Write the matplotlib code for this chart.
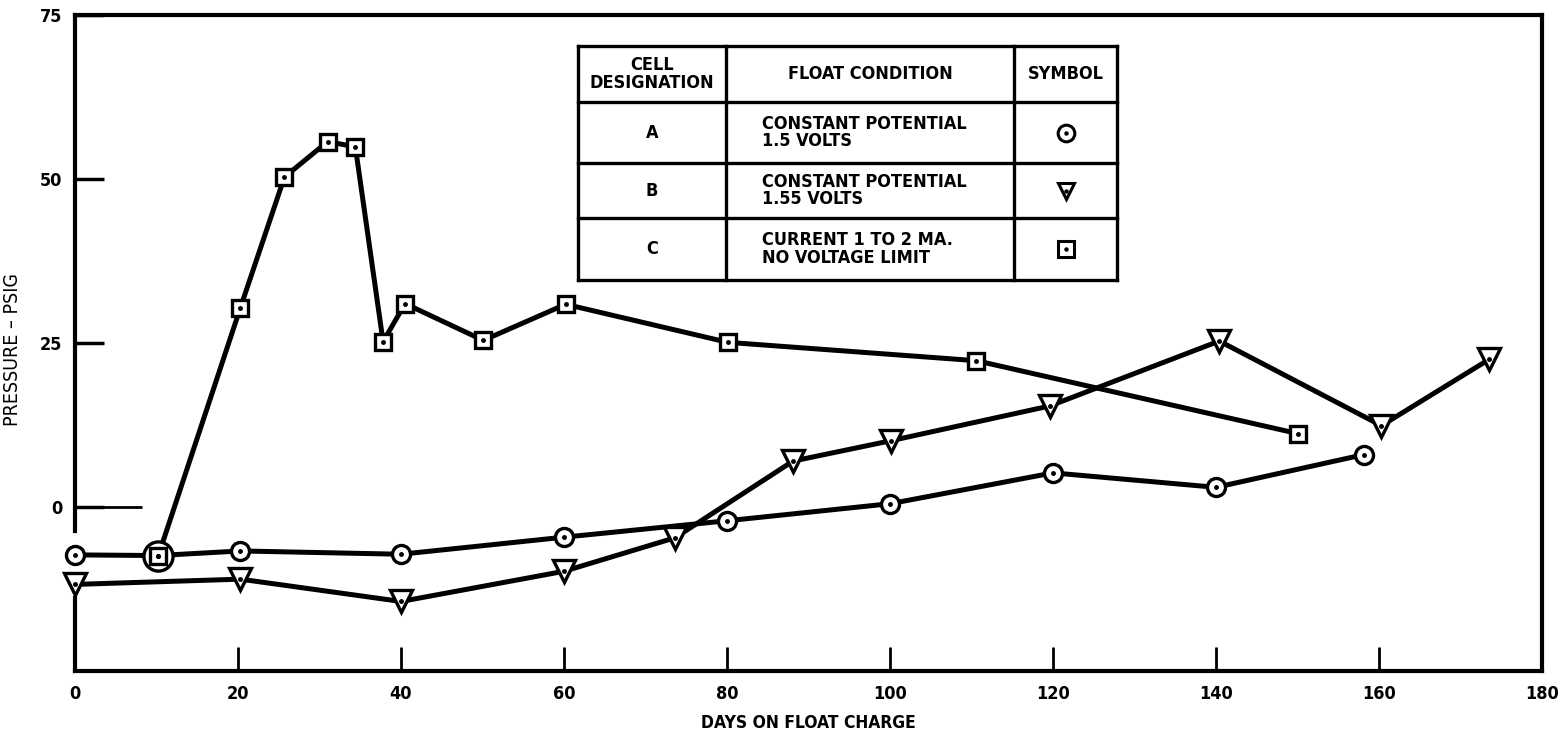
import numpy as np
import matplotlib
matplotlib.use('Agg')
import matplotlib.pyplot as plt

plt.rcParams['font.family'] = ['DejaVu Sans']
plt.rcParams['font.stretch'] = 'condensed'
plt.rcParams['font.weight'] = 'bold'

# Cell A - constant potential 1.5 V (circles)
a_days = [0, 10.2, 20.3, 40, 60, 80, 100, 120, 140, 158.2]
a_psig = [-7.3, -7.4, -6.7, -7.2, -4.6, -2.1, 0.5, 5.2, 3.0, 8.0]
# Cell B - constant potential 1.55 V (triangles)
b_days = [0, 20.3, 40, 60, 73.6, 88.1, 100.1, 119.6, 140.4, 160.3, 173.5]
b_psig = [-11.8, -11.0, -14.4, -9.8, -4.7, 7.0, 10.1, 15.4, 25.3, 12.4, 22.5]
# Cell C - current 1 to 2 mA (squares)
c_days = [10.2, 20.3, 25.7, 31, 34.4, 37.8, 40.5, 50.1, 60.2, 80.1, 110.6, 150]
c_psig = [-7.5, 30.4, 50.3, 55.7, 54.9, 25.2, 31.0, 25.4, 30.9, 25.1, 22.3, 11.2]

x_ticks = [0, 20, 40, 60, 80, 100, 120, 140, 160, 180]
y_ticks = [0, 25, 50, 75]

tbl_header = ['CELL\nDESIGNATION', 'FLOAT CONDITION', 'SYMBOL']
tbl_cells = ['A', 'B', 'C']
tbl_cond = ['CONSTANT POTENTIAL\n1.5 VOLTS', 'CONSTANT POTENTIAL\n1.55 VOLTS',
            'CURRENT 1 TO 2 MA.\nNO VOLTAGE LIMIT']
tbl_marks = ['o', 'v', 's']

W, H = 1560, 743
fig = plt.figure(figsize=(W / 100, H / 100), dpi=100)
ax = fig.add_axes([75 / W, 1 - 671 / H, (1542 - 75) / W, (671 - 15) / H])

lw = 3.6
mk = dict(markerfacecolor='white', markeredgecolor='black', markeredgewidth=2.4,
          clip_on=False)

ax.plot(a_days, a_psig, color='black', lw=lw, zorder=2)
ax.plot(b_days, b_psig, color='black', lw=lw, zorder=2)
ax.plot(c_days, c_psig, color='black', lw=lw, zorder=2)

ax.plot(a_days, a_psig, 'o', ms=13, zorder=3, **mk)
ax.plot(a_days[1], a_psig[1], 'o', ms=21, zorder=3, **mk)
ax.plot(b_days, b_psig, 'v', ms=16, zorder=3, **mk)
ax.plot(c_days, c_psig, 's', ms=12, zorder=4, **mk)
for xs, ys in [(a_days, a_psig), (b_days, b_psig), (c_days, c_psig)]:
    ax.plot(xs, ys, 'o', ms=2.5, color='black', zorder=5, clip_on=False)

ax.set_xlim(0, 180)
ax.set_ylim(-25, 75)
ax.set_xticks(x_ticks)
ax.set_xticklabels([str(v) for v in x_ticks], fontsize=13, fontweight='bold')
ax.set_yticks(y_ticks)
ax.set_yticklabels([str(v) for v in y_ticks], fontsize=13, fontweight='bold')
ax.tick_params(axis='x', direction='in', length=17, width=2, pad=10)
ax.tick_params(axis='y', direction='in', length=21, width=2.5, pad=9)
ax.yaxis.remove_overlapping_locs = False
ax.set_yticks([0], minor=True)
ax.tick_params(axis='y', which='minor', direction='in', length=48, width=2)

for s in ['top', 'right', 'bottom']:
    ax.spines[s].set_linewidth(3)
ax.spines['left'].set_visible(False)
ax.axvline(0, 0, 0.111, color='black', lw=3, clip_on=False)
ax.axvline(0, 0.213, 1, color='black', lw=3, clip_on=False)

ax.set_xlabel('DAYS ON FLOAT CHARGE', fontsize=12.5, fontweight='bold', labelpad=8)
ax.set_ylabel('PRESSURE – PSIG', fontsize=14, fontweight='normal')
ax.yaxis.set_label_coords(-0.036, 0.49)

# legend table drawn as an inset in pixel units
tx0, tx1, ty0, ty1 = 578, 1117, 46, 280
tab = fig.add_axes([tx0 / W, 1 - ty1 / H, (tx1 - tx0) / W, (ty1 - ty0) / H])
tab.set_xlim(tx0, tx1)
tab.set_ylim(ty1, ty0)
tab.axis('off')
cols = [578, 726, 1014, 1117]
rows = [46, 102, 163, 218, 280]
for c in cols:
    tab.plot([c, c], [rows[0], rows[-1]], color='black', lw=2.4,
             solid_capstyle='projecting', clip_on=False)
for r in rows:
    tab.plot([cols[0], cols[-1]], [r, r], color='black', lw=2.4,
             solid_capstyle='projecting', clip_on=False)

fs = 13
for i, h in enumerate(tbl_header):
    tab.text((cols[i] + cols[i + 1]) / 2, (rows[0] + rows[1]) / 2, h, ha='center',
             va='center', fontsize=fs, fontweight='bold', linespacing=0.95)
for j in range(3):
    yc = (rows[j + 1] + rows[j + 2]) / 2
    tab.text((cols[0] + cols[1]) / 2, yc, tbl_cells[j], ha='center', va='center',
             fontsize=fs, fontweight='bold')
    tab.text(cols[1] + 36, yc, tbl_cond[j], ha='left', va='center',
             fontsize=fs, fontweight='bold', linespacing=0.95)
    xm = (cols[2] + cols[3]) / 2
    tab.plot(xm, yc, tbl_marks[j], ms=12, markerfacecolor='white',
             markeredgecolor='black', markeredgewidth=2.2)
    tab.plot(xm, yc, 'o', ms=2.2, color='black')

fig.savefig('out.png', dpi=100)
